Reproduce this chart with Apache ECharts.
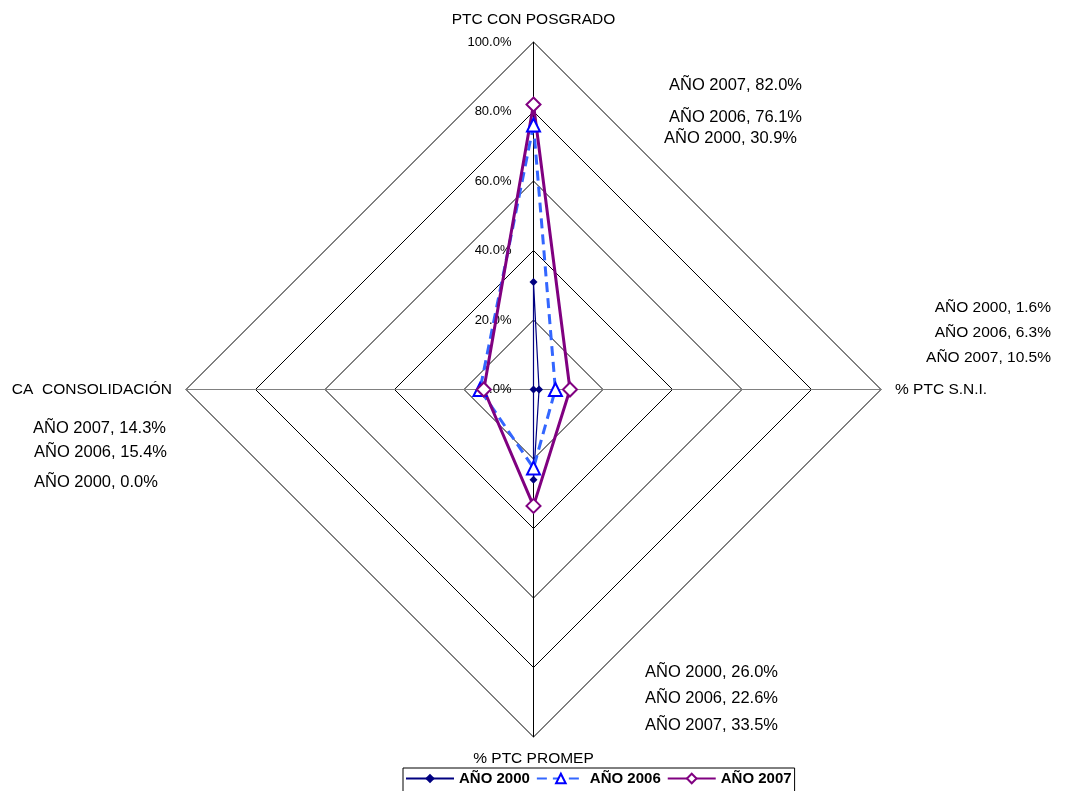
<!DOCTYPE html>
<html>
<head>
<meta charset="utf-8">
<script src="https://cdn.jsdelivr.net/npm/echarts@6/dist/echarts.min.js"></script>
<style>
  html, body { margin: 0; padding: 0; background: #fff; }
  #chart { width: 1065px; height: 791px; }
</style>
</head>
<body>
<div id="chart"></div>
<script>
// indicadores en sentido horario desde arriba
const indicadores = ['PTC CON POSGRADO', '% PTC S.N.I.', '% PTC PROMEP', 'CA  CONSOLIDACIÓN']
const series2000 = [30.9, 1.6, 26.0, 0.0]
const series2006 = [76.1, 6.3, 22.6, 15.4]
const series2007 = [82.0, 10.5, 33.5, 14.3]
const nombres = ['AÑO 2000', 'AÑO 2006', 'AÑO 2007']
const ticks = [0, 20, 40, 60, 80, 100]

const valores = [series2000, series2006, series2007]
// echarts recorre el radar en sentido antihorario
const orden = [0, 3, 2, 1]
const reordenar = arr => orden.map(i => arr[i])

const cx = 533.5, cy = 389.5, r = 347.5
const fuente = 'Arial, "Liberation Sans", sans-serif'

// estilos por serie
const estilos = [
  { symbol: 'diamond', symbolSize: 8, lineStyle: { color: '#000080', width: 1.2 }, itemStyle: { color: '#000080' } },
  { symbol: 'emptyTriangle', symbolSize: 13, lineStyle: { color: '#3366FF', width: 3, type: [10, 6] }, itemStyle: { color: '#0000FF', borderColor: '#0000FF', borderWidth: 1.5 } },
  { symbol: 'emptyDiamond', symbolSize: 14, lineStyle: { color: '#800080', width: 3 }, itemStyle: { color: '#800080', borderColor: '#800080', borderWidth: 1.5 } }
]

// bloques de etiquetas de datos (posición de texto, no de marcas)
const bloques = [
  { ind: 0, size: 16.5, filas: [[2, 802, 85], [1, 802, 117], [0, 797, 138]], align: 'right' },
  { ind: 1, size: 15.5, filas: [[0, 1051, 308], [1, 1051, 333], [2, 1051, 358]], align: 'right' },
  { ind: 2, size: 16.5, filas: [[0, 778, 672], [1, 778, 698], [2, 778, 725]], align: 'right' },
  { ind: 3, size: 16.5, filas: [[2, 33, 428], [1, 34, 452], [0, 34, 482]], align: 'left' }
]
const etiquetas = []
bloques.forEach(b => {
  b.filas.forEach(f => {
    etiquetas.push({
      type: 'text',
      x: f[1],
      y: f[2],
      style: {
        text: nombres[f[0]] + ', ' + valores[f[0]][b.ind].toFixed(1) + '%',
        fill: '#000',
        font: b.size + 'px ' + fuente,
        textAlign: b.align,
        textVerticalAlign: 'middle'
      }
    })
  })
})

// series de línea vacías: solo sirven para que la leyenda dibuje línea + símbolo
const seriesLeyenda = nombres.map((n, i) => Object.assign({
  type: 'line',
  name: n,
  data: [],
  xAxisIndex: 0,
  yAxisIndex: 0
}, estilos[i]))

const chart = echarts.init(document.getElementById('chart'))
chart.setOption({
  backgroundColor: '#fff',
  animation: false,
  textStyle: { fontFamily: fuente },
  radar: {
    center: [cx, cy],
    radius: r,
    shape: 'polygon',
    startAngle: 90,
    splitNumber: 5,
    nameGap: 14,
    axisName: { color: '#000', fontSize: 15.5, fontFamily: fuente },
    indicator: reordenar(indicadores).map((n, i) => ({
      name: n,
      min: 0,
      max: 100,
      axisLine: { lineStyle: { color: (i % 2 === 0) ? '#000' : '#808080', width: 1 } }
    })),
    axisLine: { show: true, lineStyle: { color: '#808080', width: 1 } },
    splitLine: { lineStyle: { color: '#000', width: 1 } },
    splitArea: { show: false },
    axisTick: { show: false },
    axisLabel: { show: false }
  },
  // eje auxiliar para las etiquetas de escala sobre el eje vertical
  grid: { left: cx, top: cy - r, height: r, width: 1 },
  xAxis: { type: 'value', show: false },
  yAxis: {
    type: 'value',
    min: 0,
    max: 100,
    interval: 20,
    axisLine: { show: false },
    axisTick: { show: false },
    splitLine: { show: false },
    axisLabel: {
      margin: 22,
      color: '#000',
      fontSize: 13,
      fontFamily: fuente,
      formatter: v => v.toFixed(1) + '%'
    }
  },
  legend: {
    left: 403,
    top: 768,
    data: nombres,
    borderColor: '#000',
    borderWidth: 1,
    borderRadius: 0,
    padding: [3, 3, 6, 2],
    itemGap: 6,
    itemWidth: 48,
    itemHeight: 12,
    textStyle: { color: '#000', fontWeight: 'bold', fontSize: 15, fontFamily: fuente }
  },
  series: seriesLeyenda.concat([{
    type: 'radar',
    data: nombres.map((n, i) => Object.assign({ name: n, value: reordenar(valores[i]) }, estilos[i]))
  }]),
  graphic: etiquetas
})
</script>
</body>
</html>
